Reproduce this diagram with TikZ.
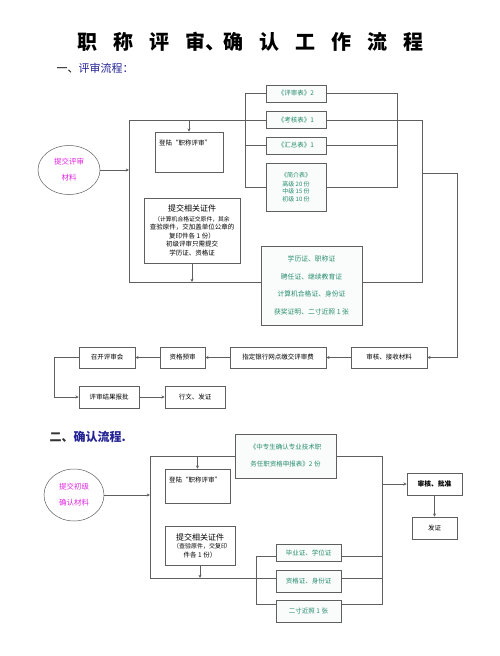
\documentclass[tikz,border=0pt]{standalone}
\usepackage{fontspec}
\setmainfont{Noto Sans CJK SC}
\usetikzlibrary{arrows.meta,calc,shapes.geometric}
\definecolor{tealc}{RGB}{40,140,110}
\definecolor{magc}{RGB}{225,40,225}
\definecolor{navyc}{RGB}{35,35,150}
\definecolor{linec}{RGB}{95,95,95}
\begin{document}
\begin{tikzpicture}[x=1pt,y=-1pt,
  box/.style={draw=linec, line width=0.6pt, fill=white, inner sep=1pt, align=center,
    font=\fontsize{6.5}{8.5}\selectfont},
  gbox/.style={box, fill=tealc!3, text=tealc},
  ell/.style={draw=linec, line width=0.5pt, ellipse, fill=white, text=magc, align=center,
    font=\fontsize{7.5}{16}\selectfont, inner sep=0pt},
  ln/.style={draw=linec, line width=0.6pt},
  arr/.style={ln, -{Stealth[length=3.2pt,width=3pt]}},
]
\useasboundingbox (0,0) rectangle (500,656);
\fill[white] (0,0) rectangle (500,656);

% title and headings
\node[font=\fontsize{20}{22}\selectfont\bfseries] (title) at (250,42)
  {职\kern16pt称\kern16pt评\kern16pt审、\kern-2pt确\kern16pt认\kern16pt工\kern16pt作\kern16pt流\kern16pt程};
\node[anchor=west, font=\fontsize{11}{12}\selectfont] (h1) at (53,68) {一、\textcolor{navyc}{评审流程：}};
\node[anchor=west, font=\fontsize{12}{13}\selectfont\bfseries, text=navyc] (h2) at (46,437) {\textcolor{black!80}{二、}确认流程.};

% ---------- part 1 ----------
\node[ell, minimum width=62, minimum height=49] (ell1) at (69,170) {提交评审\\材料};
\coordinate (r1tl) at (129,120);
\coordinate (r1bl) at (129,282);

\node[box, minimum width=68, minimum height=40] (denglu1) at (189,152) {};
\node[anchor=west, font=\fontsize{6.5}{8}\selectfont, inner sep=0pt] (denglu1t) at (159,143) {登陆“职称评审”};

\node[box, minimum width=96, minimum height=65] (tijiao1) at (192,230.5)
  {\fontsize{8}{10}\selectfont 提交相关证件\\[1pt]\fontsize{5.8}{8.3}\selectfont （计算机合格证交原件，其余\\查验原件，交加盖单位公章的\\复印件各 1 份）\\初级评审只需提交\\学历证、资格证};

\node[gbox, minimum width=60, minimum height=17] (pingshen) at (296,93.5) {《评审表》2};
\node[gbox, minimum width=60, minimum height=17] (kaohe) at (296,120) {《考核表》1};
\node[gbox, minimum width=60, minimum height=17] (huizong) at (296,145.5) {《汇总表》1};
\node[gbox, minimum width=60, minimum height=48, font=\fontsize{6}{7.2}\selectfont] (jianjie) at (296,187)
  {《简介表》\\[2pt]高级 20 份\\中级 15 份\\初级 10 份};

\node[gbox, minimum width=101, minimum height=79, font=\fontsize{6.8}{17.5}\selectfont] (green1) at (311.5,285.5)
  {学历证、职称证\\聘任证、继续教育证\\计算机合格证、身份证\\获奖证明、二寸近照 1 张};

\node[box, minimum width=76, minimum height=21] (shenhe) at (389,357.5) {审核、接收材料};
\node[box, minimum width=96, minimum height=21] (yinhang) at (278,357.5) {指定银行网点缴交评审费};
\node[box, minimum width=45, minimum height=21] (yushen) at (182.5,357.5) {资格预审};
\node[box, minimum width=56, minimum height=21] (pshui) at (107,357.5) {召开评审会};
\node[box, minimum width=60, minimum height=22] (baopi) at (109,397) {评审结果报批};
\node[box, minimum width=60, minimum height=22] (xingwen) at (195,397) {行文、发证};

\coordinate (lbx) at (245,0);
\coordinate (rbx) at (397,0);
\coordinate (g1r) at (422,282);
\coordinate (j1) at (422,173);
\coordinate (j2) at (457,173);
\coordinate (lp) at (54,357.5);

% enclosing frame
\draw[ln] (kaohe.west) -- (r1tl) -- (r1bl) -- (green1.west |- r1bl);
\draw[arr] (ell1.east) -- (ell1.east -| r1tl);
\draw[arr] (denglu1.north |- r1tl) -- (denglu1.north);
\draw[arr] (tijiao1.south) -- (tijiao1.south |- r1bl);
% left bracket
\draw[ln] (pingshen.west) -- (pingshen.west -| lbx) -- (jianjie.west -| lbx) -- (jianjie.west);
\draw[ln] (huizong.west) -- (huizong.west -| lbx);
% right bracket
\draw[ln] (pingshen.east) -- (pingshen.east -| rbx) -- (jianjie.east -| rbx) -- (jianjie.east);
\draw[ln] (huizong.east) -- (huizong.east -| rbx);
\draw[ln] (kaohe.east) -| (g1r) -- (green1.east |- g1r);
\draw[arr] (j1) -- (j2) |- (shenhe.east);
% bottom chain
\draw[arr] (shenhe.west) -- (yinhang.east);
\draw[arr] (yinhang.west) -- (yushen.east);
\draw[arr] (yushen.west) -- (pshui.east);
\draw[arr] (pshui.west) -- (lp) |- (baopi.west);
\draw[arr] (baopi.east) -- (xingwen.west);

% ---------- part 2 ----------
\node[ell, minimum width=60, minimum height=52] (ell2) at (74,495) {提交初级\\确认材料};
\coordinate (r2tl) at (150,456);
\coordinate (r2bl) at (150,578);
\coordinate (lb2t) at (256,556);
\coordinate (lb2b) at (256,604);
\coordinate (rx2) at (382,0);

\node[box, minimum width=65, minimum height=34] (denglu2) at (197.5,486) {};
\node[anchor=west, font=\fontsize{6.5}{8}\selectfont, inner sep=0pt] (denglu2t) at (169,480) {登陆“职称评审”};
\node[box, minimum width=70, minimum height=39] (tijiao2) at (200,545.5)
  {\fontsize{8}{10}\selectfont 提交相关证件\\\fontsize{6}{8.5}\selectfont （查验原件，交复印\\件各 1 份）};

\node[gbox, minimum width=101, minimum height=44, font=\fontsize{6.5}{17}\selectfont] (shenbao) at (285.5,456)
  {《中专生确认专业技术职\\务任职资格申报表》2 份};
\node[gbox, minimum width=65, minimum height=17] (biye) at (308.5,552.5) {毕业证、学位证};
\node[gbox, minimum width=65, minimum height=22] (zige) at (308.5,581) {资格证、身份证};
\node[gbox, minimum width=65, minimum height=22] (ercun) at (308.5,611) {二寸近照 1 张};

\node[box, minimum width=55, minimum height=22, font=\fontsize{6.8}{8}\selectfont\bfseries] (shenpi) at (434.5,484) {审核、批准};
\node[box, minimum width=45, minimum height=22] (fazheng) at (434.5,528) {发证};

\draw[arr] (ell2.east) -- (ell2.east -| r2tl);
\draw[ln] (shenbao.west |- r2tl) -- (r2tl) -- (r2bl) -- (zige.west |- r2bl);
\draw[arr] (denglu2.north |- r2tl) -- (denglu2.north);
\draw[arr] (tijiao2.south) -- (tijiao2.south |- r2bl);
\draw[ln] (biye.west |- lb2t) -- (lb2t) -- (lb2b) -- (ercun.west |- lb2b);
\draw[ln] (shenbao.east |- r2tl) -- (rx2 |- r2tl) -- (rx2 |- lb2b) -- (ercun.east |- lb2b);
\draw[ln] (biye.east |- lb2t) -- (rx2 |- lb2t);
\draw[ln] (zige.east |- r2bl) -- (rx2 |- r2bl);
\draw[arr] (rx2 |- shenpi.west) -- (shenpi.west);
\draw[arr] (shenpi.south) -- (fazheng.north);
\end{tikzpicture}
\end{document}
